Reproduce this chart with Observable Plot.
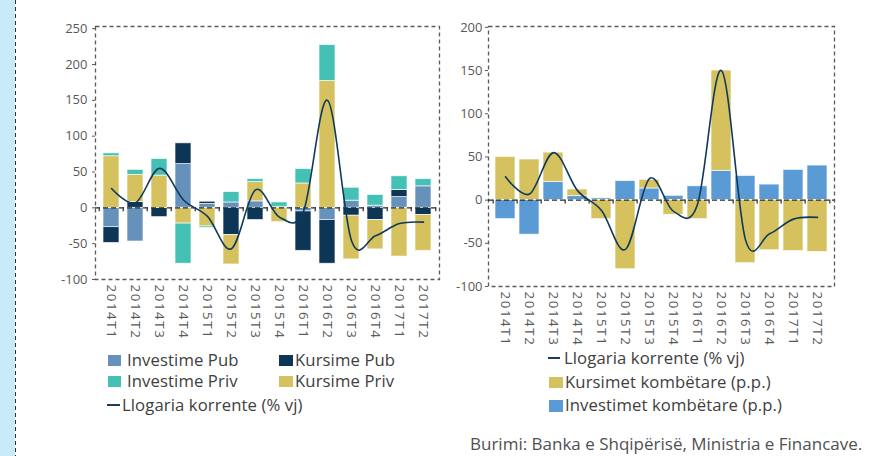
<!DOCTYPE html>
<html>
<head>
<meta charset="utf-8">
<script src="https://cdn.jsdelivr.net/npm/d3@7"></script>
<script src="https://cdn.jsdelivr.net/npm/@observablehq/plot@0.6"></script>
<style>
html, body { margin: 0; padding: 0; background: #fff; }
#root { position: relative; width: 877px; height: 456px; overflow: hidden; font-family: "Open Sans", sans-serif; }
.strip { position: absolute; left: 0; top: 0; width: 15px; height: 456px; background: #c9eaf9; }
.stripline { position: absolute; left: 15px; top: 0; width: 1px; height: 456px;
  background: repeating-linear-gradient(to bottom, #333 0 4px, transparent 4px 7px); }
.chart { position: absolute; top: 0; }
.lt { position: absolute; white-space: nowrap; font-size: 16.7px; line-height: 20px; color: #404040; letter-spacing: 0.1px; }
.src { position: absolute; white-space: nowrap; font-size: 17px; line-height: 20px; color: #505050; }
.sw { position: absolute; }
.ln { position: absolute; height: 1.6px; background: #1d3b5a; }
g[aria-label^="x-axis"] text { letter-spacing: 1.6px; font-size: 13.3px; }
</style>
</head>
<body>
<div id="root">
  <div class="strip"></div>
  <div class="stripline"></div>
  <div id="left" class="chart" style="left:0px"></div>
  <div id="right" class="chart" style="left:440px"></div>
  <div id="legendLeft"></div>
  <div id="legendRight"></div>
  <div class="src" id="source" style="left:470px;top:433.5px"></div>
</div>
<script>
// ---------- data ----------
const categories = ["2014T1","2014T2","2014T3","2014T4","2015T1","2015T2","2015T3","2015T4","2016T1","2016T2","2016T3","2016T4","2017T1","2017T2"];

// left chart (stacking order: Investime Pub, Kursime Pub, Kursime Priv, Investime Priv)
const investimePub  = [-27, -47, 0, 61, 5.5, 7.5, 9, 0, -5, -17, 10, 3, 15, 30];
const kursimePub    = [-22, 8, -13, 29, 3, -38, -17, 1.5, -55, -61, -11, -17, 10, -10];
const kursimePriv   = [72, 38, 45, -22, -26, -41, 27, -20, 34, 177, -61, -41, -68, -50];
const investimePriv = [4, 7, 23, -56, -2, 14.5, 4, 6, 20, 50, 18, 15, 19, 10];

// right chart
const investimetKombetare = [-22, -40, 21, 4.6, 2, 22, 13.5, 5, 16, 34, 28, 18, 35, 40];
const kursimetKombetare   = [50, 47, 34, 7.7, -22, -80, 10, -17, -22, 116, -73, -58, -59, -60];

// line (both charts)
const llogariaKorrente = [27, 7, 55, 11, -12, -57, 25, -13, -5, 150, -46, -39, -22, -20];

const leftTicks  = [-100, -50, 0, 50, 100, 150, 200, 250];
const rightTicks = [-100, -50, 0, 50, 100, 150, 200];

const leftSeriesNames  = ["Investime Pub", "Kursime Pub", "Kursime Priv", "Investime Priv"];
const rightSeriesNames = ["Investimet kombëtare (p.p.)", "Kursimet kombëtare (p.p.)"];
const lineName = "Llogaria korrente (% vj)";
const sourceText = "Burimi: Banka e Shqipërisë, Ministria e Financave.";

const colors = {
  "Investime Pub": "#6591bb",
  "Kursime Pub": "#0c3556",
  "Kursime Priv": "#d5c15d",
  "Investime Priv": "#45c0b5",
  "Investimet kombëtare (p.p.)": "#5b9bd5",
  "Kursimet kombëtare (p.p.)": "#d5c15d"
};
const lineColor = "#0f3a5c";

// ---------- build tables ----------
function longTable(names, arrays) {
  const out = [];
  names.forEach((s, k) => arrays[k].forEach((v, i) => out.push({cat: categories[i], series: s, value: v})));
  return out;
}
const leftData = longTable(leftSeriesNames, [investimePub, kursimePub, kursimePriv, investimePriv]);
const rightData = longTable(rightSeriesNames, [investimetKombetare, kursimetKombetare]);
const lineData = categories.map((c, i) => ({cat: c, value: llogariaKorrente[i]}));

const curve = d3.curveCardinal.tension(0);

function makeChart(cfg) {
  const innerW = cfg.width - cfg.marginLeft - cfg.marginRight;
  const step = innerW / categories.length;
  return Plot.plot({
    width: cfg.width,
    height: cfg.height,
    marginLeft: cfg.marginLeft,
    marginRight: cfg.marginRight,
    marginTop: cfg.marginTop,
    marginBottom: cfg.marginBottom,
    style: {fontFamily: "'Open Sans', sans-serif", fontSize: "13px", color: "#595959", background: "transparent", overflow: "visible"},
    x: {type: "band", domain: categories, paddingInner: cfg.pad, paddingOuter: cfg.pad / 2, tickSize: 0, tickPadding: 5, tickRotate: 90, label: null},
    y: {domain: cfg.yDomain, ticks: cfg.ticks, tickSize: 3, tickPadding: cfg.tickPadding, tickFormat: d => String(d), label: null, grid: false},
    color: {domain: Object.keys(colors), range: Object.values(colors)},
    marks: [
      Plot.barY(cfg.data, {filter: d => d.value !== 0, x: "cat", y: "value", fill: "series", stroke: "#ffffff", strokeWidth: 0.8, strokeOpacity: 0.8}),
      Plot.frame({stroke: "#5a5a5a", strokeWidth: 1.3, strokeDasharray: "4,3"}),
      Plot.ruleY([0], {stroke: "#2a2a2a", strokeWidth: 1.3, strokeDasharray: "5,3"}),
      Plot.ruleX(categories, {x: d => d, y1: () => 0, y2: () => 0, insetBottom: -4, dx: -step / 2, stroke: "#2a2a2a", strokeWidth: 1.2}),
      Plot.ruleX(categories.slice(-1), {x: d => d, y1: () => 0, y2: () => 0, insetBottom: -4, dx: step / 2, stroke: "#2a2a2a", strokeWidth: 1.2}),
      Plot.line(lineData, {x: "cat", y: "value", stroke: lineColor, strokeWidth: 1.6, curve})
    ]
  });
}

document.getElementById("left").append(makeChart({
  width: 440, height: 345, marginLeft: 95, marginRight: 1, marginTop: 26, marginBottom: 66,
  yDomain: [-100, 253], ticks: leftTicks, tickPadding: 5, pad: 0.35, data: leftData
}));
document.getElementById("right").append(makeChart({
  width: 437, height: 345, marginLeft: 48, marginRight: 43, marginTop: 26, marginBottom: 59,
  yDomain: [-100, 201], ticks: rightTicks, tickPadding: 3, pad: 0.17, data: rightData
}));

// ---------- legends ----------
function addSwatch(parent, x, y, w, h, color) {
  const d = document.createElement("div");
  d.className = "sw";
  Object.assign(d.style, {left: x + "px", top: y + "px", width: w + "px", height: h + "px", background: color});
  parent.append(d);
}
function addText(parent, x, top, text, cls = "lt") {
  const d = document.createElement("div");
  d.className = cls;
  d.textContent = text;
  Object.assign(d.style, {left: x + "px", top: top + "px"});
  parent.append(d);
}
function addLine(parent, x, y, w) {
  const d = document.createElement("div");
  d.className = "ln";
  Object.assign(d.style, {left: x + "px", top: (y - 0.8) + "px", width: w + "px"});
  parent.append(d);
}

const LL = document.getElementById("legendLeft");
addSwatch(LL, 108, 355, 13, 11, colors["Investime Pub"]);
addText(LL, 127, 349.5, "Investime Pub");
addSwatch(LL, 279, 355, 14, 11, colors["Kursime Pub"]);
addText(LL, 295, 349.5, "Kursime Pub");
addSwatch(LL, 108, 376, 13, 11, colors["Investime Priv"]);
addText(LL, 127, 370.5, "Investime Priv");
addSwatch(LL, 279, 376, 14, 11, colors["Kursime Priv"]);
addText(LL, 295, 370.5, "Kursime Priv");
addLine(LL, 107, 405, 13);
addText(LL, 122, 394.5, lineName);

const LR = document.getElementById("legendRight");
addLine(LR, 548, 358, 12);
addText(LR, 564, 348, lineName);
addSwatch(LR, 549, 377, 14, 11, colors["Kursimet kombëtare (p.p.)"]);
addText(LR, 565, 372, "Kursimet kombëtare (p.p.)");
addSwatch(LR, 549, 400, 14, 12, colors["Investimet kombëtare (p.p.)"]);
addText(LR, 565, 395, "Investimet kombëtare (p.p.)");

document.getElementById("source").textContent = sourceText;
</script>
</body>
</html>
